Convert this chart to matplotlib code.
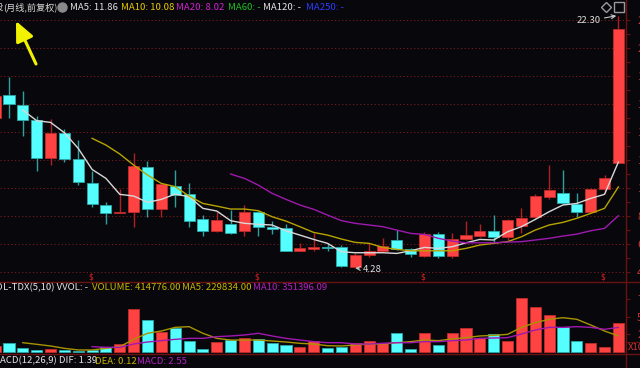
import numpy as np
import matplotlib
matplotlib.use('Agg')
import matplotlib.pyplot as plt
from matplotlib.lines import Line2D

plt.rcParams['font.family'] = ['Noto Sans CJK SC', 'DejaVu Sans']

# ---------------- data (monthly, forward-adjusted) ----------------
first_idx = -1  # first (partially visible) candle
opens = [15.0, 16.64, 15.93, 14.84, 12.12, 13.91, 12.05, 10.33, 8.79, 8.21,
         8.26, 11.48, 8.48, 10.14, 9.59, 7.76, 6.93, 7.45, 6.93, 8.26,
         7.24, 7.12, 5.5, 5.66, 5.81, 5.76, 4.38, 5.21, 5.52, 6.29,
         5.62, 5.17, 6.71, 5.17, 6.36, 6.57, 6.91, 6.52, 7.29, 7.91,
         9.34, 9.62, 8.86, 8.31, 9.93, 11.81]
closes = [16.57, 16.0, 14.86, 12.12, 13.91, 12.05, 10.41, 8.84, 8.24, 8.24,
          11.57, 8.48, 10.26, 9.5, 7.64, 6.95, 7.71, 6.76, 8.26, 7.24,
          7.05, 5.52, 5.74, 5.81, 5.72, 4.45, 5.21, 5.5, 5.88, 5.64,
          5.29, 6.71, 5.17, 6.33, 6.64, 6.93, 6.52, 7.71, 7.84, 9.43,
          9.86, 8.95, 8.31, 9.91, 10.69, 21.33]
highs = [16.8, 17.93, 16.93, 15.14, 14.93, 14.19, 13.43, 11.21, 9.02, 9.91,
         12.52, 11.93, 10.26, 11.29, 10.33, 8.07, 8.31, 8.43, 8.79, 8.38,
         7.64, 7.43, 6.09, 6.76, 6.09, 5.93, 5.38, 6.05, 6.45, 7.0,
         5.74, 6.83, 6.88, 6.76, 7.64, 7.41, 8.07, 7.76, 8.59, 9.55,
         11.64, 11.29, 9.62, 10.02, 10.93, 22.30]
lows = [14.8, 15.0, 13.71, 11.24, 11.64, 11.88, 10.21, 8.62, 7.43, 8.19,
        7.24, 7.91, 7.91, 8.62, 7.24, 6.59, 6.88, 6.71, 6.59, 6.59,
        6.71, 5.52, 5.5, 5.52, 5.52, 4.34, 4.28, 5.09, 5.45, 5.57,
        5.09, 5.09, 5.02, 4.98, 6.29, 6.52, 6.16, 6.29, 6.76, 7.84,
        9.19, 8.86, 7.95, 8.26, 9.62, 11.81]
volumes = [8.6, 13.3, 6.2, 2.4, 4.3, 3.3, 1.4, 2.4, 6.7, 11.4,
           61.0, 45.2, 28.6, 33.8, 16.2, 4.8, 14.3, 17.6, 20.0, 18.6,
           12.4, 10.5, 6.7, 15.2, 6.2, 7.6, 12.4, 16.2, 12.4, 26.7,
           4.3, 27.6, 10.5, 26.7, 34.8, 20.5, 25.7, 16.2, 77.0, 64.8,
           52.9, 35.2, 15.7, 13.3, 6.7, 41.4776]  # x10^4

ma5_start = 1
ma5 = [15.57, 14.81, 14.69, 13.95, 12.83, 11.33, 10.69, 9.55, 9.43, 8.98,
       9.19, 9.57, 9.38, 8.55, 8.36, 7.67, 7.48, 7.41, 7.36, 6.95,
       6.64, 6.33, 6.05, 5.45, 5.38, 5.38, 5.38, 5.33, 5.52, 5.76,
       5.69, 5.81, 6.09, 6.33, 6.29, 6.88, 7.24, 7.76, 8.31, 8.79,
       8.90, 9.26, 9.55, 11.86]
ma10_start = 6
ma10 = [13.55, 13.07, 12.43, 11.64, 10.93, 10.33, 10.1, 9.43, 8.9, 8.71,
        8.5, 8.5, 8.38, 7.95, 7.64, 7.24, 6.83, 6.64, 6.36, 6.12,
        6.05, 5.76, 5.62, 5.52, 5.52, 5.52, 5.52, 5.69, 5.93, 6.05,
        6.17, 6.52, 7.0, 7.36, 7.55, 7.84, 8.19, 8.55, 10.08]
ma20_start = 16
ma20 = [11.0, 10.69, 10.21, 9.62, 9.19, 8.79, 8.48, 8.07, 7.67, 7.48,
        7.36, 7.24, 7.0, 6.76, 6.69, 6.41, 6.21, 6.09, 6.09, 6.09,
        6.14, 6.17, 6.29, 6.41, 6.57, 6.71, 6.95, 7.12, 8.02]

vma5_start = 1
vma5 = [13.3, 11.0, 8.6, 5.2, 2.9, 2.9, 5.2, 7.6, 18.1, 26.7,
        30.0, 35.2, 36.2, 26.7, 19.5, 17.1, 17.1, 17.1, 15.7, 14.3,
        12.4, 11.4, 9.0, 8.6, 10.0, 11.4, 11.4, 13.3, 14.8, 17.1,
        16.2, 18.6, 20.5, 22.9, 23.8, 25.2, 35.2, 41.9, 46.7, 49.0,
        46.7, 38.6, 30.0, 22.98]
vma10_start = 6
vma10 = [7.6, 6.7, 6.7, 11.4, 14.3, 16.2, 18.1, 19.5, 19.5, 21.9,
         22.9, 24.3, 26.7, 22.9, 19.5, 17.1, 14.8, 13.3, 13.3, 11.4,
         11.4, 12.4, 13.3, 13.3, 14.8, 14.8, 16.2, 17.1, 19.5, 20.0,
         20.5, 25.7, 31.4, 35.2, 35.2, 36.2, 35.2, 32.4, 35.14]

dividend_idx = [6, 18, 30, 43]
price_ticks = [4, 6, 8, 10, 12, 14, 16, 18, 20, 22]
vol_ticks = [25, 50, 75]

# ---------------- style ----------------
W, H = 640, 368
BG = '#08080c'
RED = '#ff4242'
RED_EDGE = '#c02a2a'
RED_WICK = '#b02020'
CYAN = '#55ffff'
CYAN_EDGE = '#2aa8a8'
CYAN_WICK = '#2ea0a0'
GRID = '#7a1c1c'
AXLINE = '#6a1212'
LBL = '#d03434'
FS = 6.9

opens = np.array(opens); closes = np.array(closes)
highs = np.array(highs); lows = np.array(lows)
volumes = np.array(volumes)
x = np.arange(first_idx, first_idx + len(opens))
up = closes >= opens

fig = plt.figure(figsize=(W / 100, H / 100), dpi=100, facecolor=BG)


def rect(x0, y0, x1, y1):
    return [x0 / W, 1 - y1 / H, (x1 - x0) / W, (y1 - y0) / H]


ax_p = fig.add_axes(rect(0, 0, 626, 282))
ax_v = fig.add_axes(rect(0, 282, 626, 354))
for ax in (ax_p, ax_v):
    ax.set_facecolor(BG)
    for s in ax.spines.values():
        s.set_visible(False)
    ax.set_xlim(-0.65, 44.55)
    ax.tick_params(axis='x', bottom=False, labelbottom=False)
    ax.yaxis.tick_right()
ax_p.set_ylim(3.29, 23.43)
ax_v.set_ylim(-2.86, 100)

# price ticks
ax_p.set_yticks(price_ticks)
ax_p.set_yticks([t + 1 for t in price_ticks[:-1]], minor=True)
ax_p.tick_params(axis='y', which='both', colors=AXLINE, labelcolor=LBL,
                 length=3, width=0.8, pad=5, labelsize=8)
ax_v.set_yticks(vol_ticks)
ax_v.tick_params(axis='y', colors=AXLINE, labelcolor=LBL,
                 length=3, width=0.8, pad=5, labelsize=8)

for t in price_ticks:
    ax_p.axhline(t, color=GRID, lw=0.7, ls=(0, (1.2, 2.5)), zorder=0)

# candles
wick_colors = np.where(up, RED_WICK, CYAN_WICK)
ax_p.vlines(x, lows, highs, colors=wick_colors, lw=1.0, zorder=2)
body_h = np.maximum(np.abs(closes - opens), 0.08)
body_b = np.minimum(opens, closes)
ax_p.bar(x, body_h, bottom=body_b, width=0.8,
         color=np.where(up, RED, CYAN), edgecolor=np.where(up, RED_EDGE, CYAN_EDGE),
         linewidth=0.6, zorder=3)

# moving averages
ax_p.plot(np.arange(ma5_start, ma5_start + len(ma5)), ma5, color='#d8d8d8', lw=1.0, zorder=4)
ax_p.plot(np.arange(ma10_start, ma10_start + len(ma10)), ma10, color='#b8a400', lw=1.0, zorder=4)
ax_p.plot(np.arange(ma20_start, ma20_start + len(ma20)), ma20, color='#a018b0', lw=1.0, zorder=4)

# dividend markers
for d in dividend_idx:
    ax_p.text(d - 0.1, 3.64, '$', color='#e02020', fontsize=5.5, ha='center', va='center',
              family='DejaVu Sans', zorder=5)

# high / low annotations
ax_p.annotate('22.30', xy=(43.85, highs[-1]), xytext=(-16, -5), textcoords='offset pixels',
              ha='right', va='center', color='#dcdcdc', fontsize=FS,
              arrowprops=dict(arrowstyle='->', color='#c8c8c8', lw=0.8,
                              shrinkA=1, shrinkB=0))
imin = int(np.argmin(lows))
ax_p.annotate('4.28', xy=(x[imin], lows[imin]), xytext=(8, -1), textcoords='offset pixels',
              ha='left', va='center', color='#dcdcdc', fontsize=FS,
              arrowprops=dict(arrowstyle='->', color='#c8c8c8', lw=0.8,
                              shrinkA=1, shrinkB=0))

# volume bars
ax_v.bar(x, volumes, width=0.8, color=np.where(up, RED, CYAN),
         edgecolor=np.where(up, RED_EDGE, CYAN_EDGE), linewidth=0.6, zorder=3)
ax_v.plot(np.arange(vma5_start, vma5_start + len(vma5)), vma5, color='#a89400', lw=1.0, zorder=4)
ax_v.plot(np.arange(vma10_start, vma10_start + len(vma10)), vma10, color='#a018b0', lw=1.0, zorder=4)


# frame lines
def fline(x0, y0, x1, y1, **kw):
    fig.add_artist(Line2D([x0 / W, x1 / W], [1 - y0 / H, 1 - y1 / H], **kw))


fline(626, 0, 626, H, color=AXLINE, lw=1.0)
fline(0, 282, W, 282, color=AXLINE, lw=1.0)
fline(0, 354, W, 354, color=AXLINE, lw=1.0)
fline(626, 342, W, 342, color=AXLINE, lw=0.8)
fig.text(628 / W, 1 - 348 / H, 'X10', color=LBL, fontsize=FS, ha='left', va='center')


# header texts
def htxt(px, py, s, c, ha='left', fs=FS):
    fig.text(px / W, 1 - py / H, s, color=c, fontsize=fs, ha=ha, va='center')


htxt(3, 7, '股', '#d8d8d8', ha='right', fs=6.6)
htxt(3, 7, '(月线,前复权)', '#d8d8d8', fs=6.6)
fig.add_artist(Line2D([62 / W], [1 - 7 / H], marker='o', markersize=6.5,
                      color='#8a8a8a', linestyle='none'))
htxt(70, 7, 'MA5: 11.86', '#e4e4e4')
htxt(121, 7, 'MA10: 10.08', '#e8c800')
htxt(176, 7, 'MA20: 8.02', '#d020d0')
htxt(228, 7, 'MA60: -', '#20c020')
htxt(263, 7, 'MA120: -', '#e4e4e4')
htxt(306, 7, 'MA250: -', '#2a3cff')

fig.add_artist(Line2D([606 / W], [1 - 7 / H], marker='D', markersize=5,
                      markerfacecolor='none', markeredgecolor='#9a9a9a', linestyle='none'))
fig.add_artist(Line2D([619 / W], [1 - 7 / H], marker='s', markersize=6.5,
                      markerfacecolor='none', markeredgecolor='#9a9a9a', linestyle='none'))

htxt(3, 288, 'VO', '#e4e4e4', ha='right')
htxt(3, 288, 'L-TDX(5,10) VVOL: -', '#e4e4e4')
htxt(92, 288, 'VOLUME: 414776.00', '#c8b400')
htxt(182, 288, 'MA5: 229834.00', '#c8b400')
htxt(253, 288, 'MA10: 351396.09', '#b020c0')

htxt(0, 361, 'M', '#e4e4e4', ha='right')
htxt(0, 361, 'ACD(12,26,9) DIF: 1.39', '#e4e4e4')
htxt(95, 361, 'DEA: 0.12', '#c8b400')
htxt(137, 361, 'MACD: 2.55', '#b020c0')

# yellow pointer arrow
fig.add_artist(plt.Annotation('', xy=(16, H - 21), xytext=(36, H - 64),
                              xycoords='figure pixels', textcoords='figure pixels',
                              arrowprops=dict(arrowstyle='-|>,head_width=0.55,head_length=1.2',
                                              color='#f2f200', lw=2.2, shrinkA=0, shrinkB=0)))

fig.savefig('out.png', dpi=100, facecolor=BG)
